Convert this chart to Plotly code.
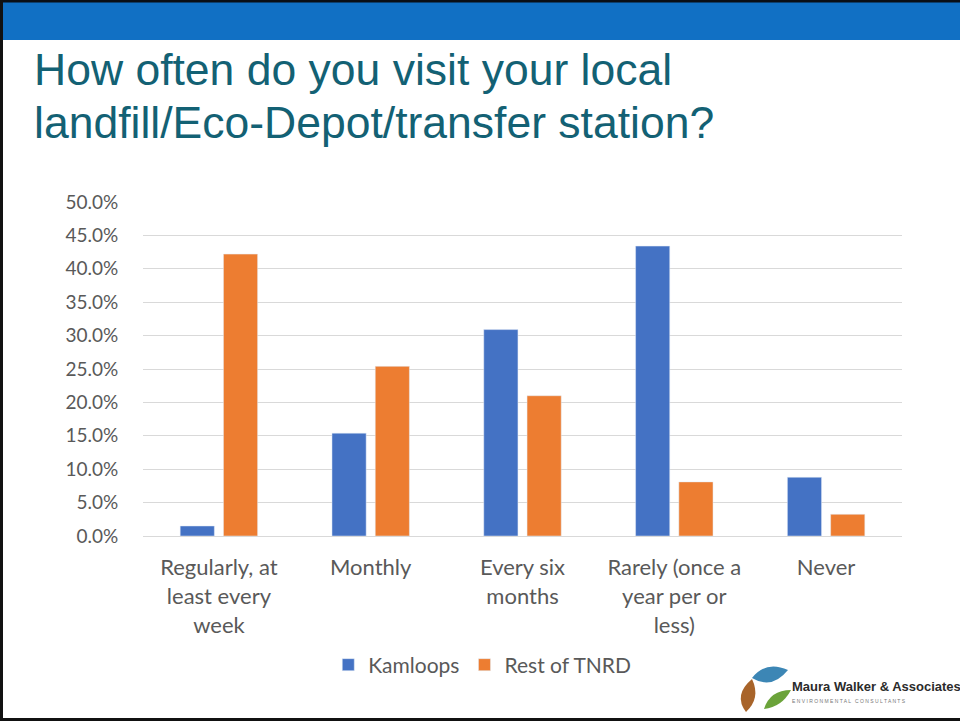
import plotly.graph_objects as go

# ---------------- data ----------------
categories = ["Regularly, at least every week", "Monthly", "Every six months",
              "Rarely (once a year per or less)", "Never"]
tick_labels = ["Regularly, at<br>least every<br>week", "Monthly", "Every six<br>months",
               "Rarely (once a<br>year per or<br>less)", "Never"]
kamloops = [0.015, 0.154, 0.309, 0.434, 0.088]
rest_tnrd = [0.422, 0.254, 0.210, 0.081, 0.0325]
series_names = ["Kamloops", "Rest of TNRD"]
title_lines = ["How often do you visit your local", "landfill/Eco-Depot/transfer station?"]

# ---------------- layout geometry ----------------
W, H = 960, 721
L, R, T, B = 143, 58, 202, 185
PW, PH = W - L - R, H - T - B

def px(x):
    return (x - L) / PW

def py(y):
    return (H - B - y) / PH

BLUE = "#4472C4"
ORANGE = "#ED7D31"
GREY = "#595959"
FONT = "Lato"

fig = go.Figure()
fig.add_trace(go.Bar(x=categories, y=kamloops, name=series_names[0], marker_color=BLUE))
fig.add_trace(go.Bar(x=categories, y=rest_tnrd, name=series_names[1], marker_color=ORANGE))

shapes = []
# top blue band
shapes.append(dict(type="rect", xref="paper", yref="paper", x0=px(0), x1=px(W), y0=py(40), y1=py(2),
                   fillcolor="#1170C4", line_width=0, layer="below"))
# black frame lines (top, left, bottom)
shapes.append(dict(type="rect", xref="paper", yref="paper", x0=px(0), x1=px(W), y0=py(2.5), y1=py(0),
                   fillcolor="#0A0F16", line_width=0))
shapes.append(dict(type="rect", xref="paper", yref="paper", x0=px(0), x1=px(3), y0=py(H), y1=py(0),
                   fillcolor="#111111", line_width=0))
shapes.append(dict(type="rect", xref="paper", yref="paper", x0=px(0), x1=px(W), y0=py(H), y1=py(718),
                   fillcolor="#111111", line_width=0))

# logo leaves
def leaf(points, color):
    d = f"M {px(points[0][0]):.5f},{py(points[0][1]):.5f} "
    d += f"Q {px(points[1][0]):.5f},{py(points[1][1]):.5f} {px(points[2][0]):.5f},{py(points[2][1]):.5f} "
    d += f"Q {px(points[3][0]):.5f},{py(points[3][1]):.5f} {px(points[0][0]):.5f},{py(points[0][1]):.5f} Z"
    return dict(type="path", xref="paper", yref="paper", path=d, fillcolor=color, line_width=0)

shapes.append(leaf([(752, 678), (766, 660), (788, 670), (772, 690)], "#3C86B5"))
shapes.append(leaf([(746, 712), (733, 695), (752, 679), (761, 698)], "#A8642A"))
shapes.append(leaf([(764, 709), (770, 690), (791, 690), (782, 707)], "#6BA33A"))

annotations = []
annotations.append(dict(text=title_lines[0], xref="paper", yref="paper", x=px(32), y=py(96),
                        xanchor="left", yanchor="bottom", showarrow=False,
                        font=dict(family="Liberation Sans, Arial", size=44.5, color="#136174")))
annotations.append(dict(text=title_lines[1], xref="paper", yref="paper", x=px(32), y=py(149),
                        xanchor="left", yanchor="bottom", showarrow=False,
                        font=dict(family="Liberation Sans, Arial", size=44.5, color="#136174")))
annotations.append(dict(text="<b>Maura Walker &amp; Associates</b>", xref="paper", yref="paper", x=px(790), y=py(686),
                        xanchor="left", yanchor="middle", showarrow=False,
                        font=dict(family="Liberation Sans Narrow, Liberation Sans", size=13, color="#2B2B2B")))
annotations.append(dict(text="E N V I R O N M E N T A L &nbsp; C O N S U L T A N T S", xref="paper", yref="paper",
                        x=px(790), y=py(701), xanchor="left", yanchor="middle", showarrow=False,
                        font=dict(family="Liberation Sans", size=5, color="#777777")))

fig.update_layout(
    width=W, height=H,
    margin=dict(l=L, r=R, t=T, b=B, pad=0),
    paper_bgcolor="white", plot_bgcolor="white",
    barmode="group", bargap=0.43, bargroupgap=0.21,
    font=dict(family=FONT, color=GREY, size=19),
    showlegend=True,
    legend=dict(orientation="h", x=0.447, xanchor="center", y=py(665), yanchor="middle",
                font=dict(family=FONT, size=21, color=GREY), itemwidth=30, traceorder="normal"),
    shapes=shapes, annotations=annotations,
)
fig.update_yaxes(range=[0, 0.5], dtick=0.05, tickformat=".1%", showgrid=True, gridcolor="#D9D9D9",
                 gridwidth=1, zeroline=False, showline=False, ticks="outside", ticklen=20,
                 tickcolor="rgba(0,0,0,0)", tickfont=dict(family=FONT, size=19, color=GREY),
                 fixedrange=True)
fig.update_xaxes(tickvals=categories, ticktext=tick_labels, showline=True, linecolor="#D9D9D9",
                 linewidth=1, ticks="outside", ticklen=12, tickcolor="rgba(0,0,0,0)",
                 tickfont=dict(family=FONT, size=22, color=GREY), fixedrange=True)

fig.write_html("out.html", config={"displayModeBar": False},
               post_script="document.body.style.margin='0';document.body.style.overflow='hidden';")
